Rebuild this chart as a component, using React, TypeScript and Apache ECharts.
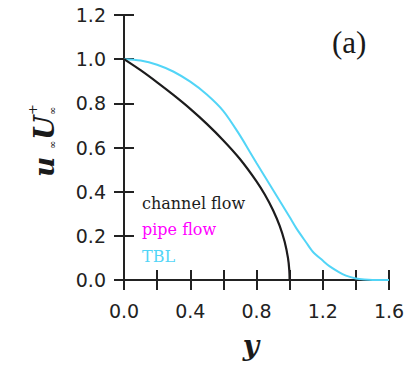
import React, { useEffect, useRef } from "react";
import * as echarts from "echarts";

// channel flow (black)
const channelY = [0, 0.1, 0.2, 0.3, 0.4, 0.5, 0.6, 0.7, 0.8, 0.85, 0.9, 0.94, 0.97, 0.99, 0.998, 1.0];
const channelU = [1.0, 0.95, 0.895, 0.837, 0.775, 0.707, 0.632, 0.548, 0.447, 0.387, 0.316, 0.245, 0.173, 0.1, 0.045, 0];
// pipe flow (magenta, hidden under the channel-flow curve)
const pipeY = [0, 0.1, 0.2, 0.3, 0.4, 0.5, 0.6, 0.7, 0.8, 0.85, 0.9, 0.94, 0.97, 0.99, 0.998, 1.0];
const pipeU = [1.0, 0.95, 0.895, 0.837, 0.775, 0.707, 0.632, 0.548, 0.447, 0.387, 0.316, 0.245, 0.173, 0.1, 0.045, 0];
// turbulent boundary layer (cyan)
const tblY = [0, 0.1, 0.2, 0.3, 0.4, 0.5, 0.6, 0.7, 0.76, 0.8, 0.9, 1.0, 1.04, 1.1, 1.14, 1.2, 1.24, 1.3, 1.34, 1.4, 1.45, 1.5, 1.6];
const tblU = [1.0, 0.994, 0.975, 0.943, 0.898, 0.84, 0.765, 0.655, 0.58, 0.53, 0.408, 0.285, 0.235, 0.17, 0.128, 0.088, 0.063, 0.035, 0.02, 0.007, 0.002, 0, 0];

const seriesNames = ["channel flow", "pipe flow", "TBL"];
const seriesColors = ["#1c1c1c", "#ff00ff", "#52d5f7"];

const AX = "#222222";

const pairs = (xs: number[], ys: number[]) => xs.map((x, i) => [x, ys[i]]);

export default function App() {
  const ref = useRef<HTMLDivElement>(null);
  useEffect(() => {
    if (!ref.current) return;
    const chart = echarts.init(ref.current, undefined, { renderer: "svg" });
    const axisLine = { show: true, lineStyle: { color: AX, width: 2 } };
    const axisTick = { show: true, inside: false, length: 10, lineStyle: { color: AX, width: 2 } };
    const labelFont = { fontFamily: "DejaVu Sans", fontSize: 19, color: AX };
    const mathFont = "italic bold 28px 'DejaVu Serif'";
    chart.setOption({
      animation: false,
      backgroundColor: "#ffffff",
      grid: { left: 124, right: 27, top: 15, bottom: 89, containLabel: false },
      legend: {
        orient: "vertical",
        left: 132,
        top: 190,
        icon: "none",
        itemWidth: 0,
        itemHeight: 16,
        itemGap: 10.5,
        selectedMode: false,
        textStyle: { fontFamily: "DejaVu Serif", fontSize: 16, lineHeight: 16 },
        data: seriesNames.map((n, i) => ({ name: n, textStyle: { color: seriesColors[i] } })),
      },
      xAxis: [
        {
          type: "value",
          position: "bottom",
          min: 0,
          max: 1.6,
          interval: 0.2,
          axisLine,
          axisTick,
          splitLine: { show: false },
          axisLabel: {
            ...labelFont,
            margin: 21,
            interval: 1,
            formatter: (v: number) => (Math.round(v * 10) % 4 === 0 ? v.toFixed(1) : ""),
          },
        },
        {
          type: "value",
          position: "top",
          min: 0,
          max: 1.6,
          interval: 0.2,
          axisLine,
          axisTick,
          splitLine: { show: false },
          axisLabel: { show: false },
        },
      ],
      yAxis: [
        {
          type: "value",
          position: "left",
          min: 0,
          max: 1.2,
          interval: 0.2,
          axisLine,
          axisTick,
          splitLine: { show: false },
          axisLabel: { ...labelFont, margin: 18, formatter: (v: number) => v.toFixed(1) },
        },
        {
          type: "value",
          position: "right",
          min: 0,
          max: 1.2,
          interval: 0.2,
          axisLine,
          axisTick,
          splitLine: { show: false },
          axisLabel: { show: false },
        },
      ],
      series: [
        {
          name: seriesNames[1],
          type: "line",
          data: pairs(pipeY, pipeU),
          smooth: 0.3,
          showSymbol: false,
          lineStyle: { color: seriesColors[1], width: 0.8 },
          itemStyle: { color: seriesColors[1] },
          z: 1,
        },
        {
          name: seriesNames[0],
          type: "line",
          data: pairs(channelY, channelU),
          smooth: 0.3,
          showSymbol: false,
          lineStyle: { color: seriesColors[0], width: 2.2 },
          itemStyle: { color: seriesColors[0] },
          z: 3,
        },
        {
          name: seriesNames[2],
          type: "line",
          data: pairs(tblY, tblU),
          smooth: 0.3,
          showSymbol: false,
          lineStyle: { color: seriesColors[2], width: 2 },
          itemStyle: { color: seriesColors[2] },
          z: 2,
        },
      ],
      graphic: [
        {
          type: "text",
          left: 332,
          top: 27,
          style: { text: "(a)", font: "31px 'Liberation Serif'", fill: "#1a1a1a" },
        },
        {
          type: "text",
          x: 251,
          y: 345,
          style: { text: "y", font: mathFont, fill: "#1a1a1a", align: "center", verticalAlign: "middle" },
        },
        {
          type: "group",
          x: 53,
          y: 176,
          rotation: Math.PI / 2,
          children: [
            { type: "text", x: -1, y: -9, style: { text: "u", font: mathFont, fill: "#1a1a1a", align: "left", verticalAlign: "middle" } },
            { type: "text", x: 27, y: -1, style: { text: "∞", font: "10px 'DejaVu Serif'", fill: "#1a1a1a", align: "left", verticalAlign: "middle" } },
            { type: "text", x: 36, y: -9, style: { text: "U", font: mathFont, fill: "#1a1a1a", align: "left", verticalAlign: "middle" } },
            { type: "text", x: 61, y: -1, style: { text: "∞", font: "10px 'DejaVu Serif'", fill: "#1a1a1a", align: "left", verticalAlign: "middle" } },
            { type: "text", x: 61, y: -21, style: { text: "+", font: "13px 'DejaVu Sans'", fill: "#1a1a1a", align: "left", verticalAlign: "middle" } },
          ],
        },
      ],
    });
    return () => chart.dispose();
  }, []);
  return <div ref={ref} style={{ width: 416, height: 369, position: "absolute", left: 0, top: 0 }} />;
}
